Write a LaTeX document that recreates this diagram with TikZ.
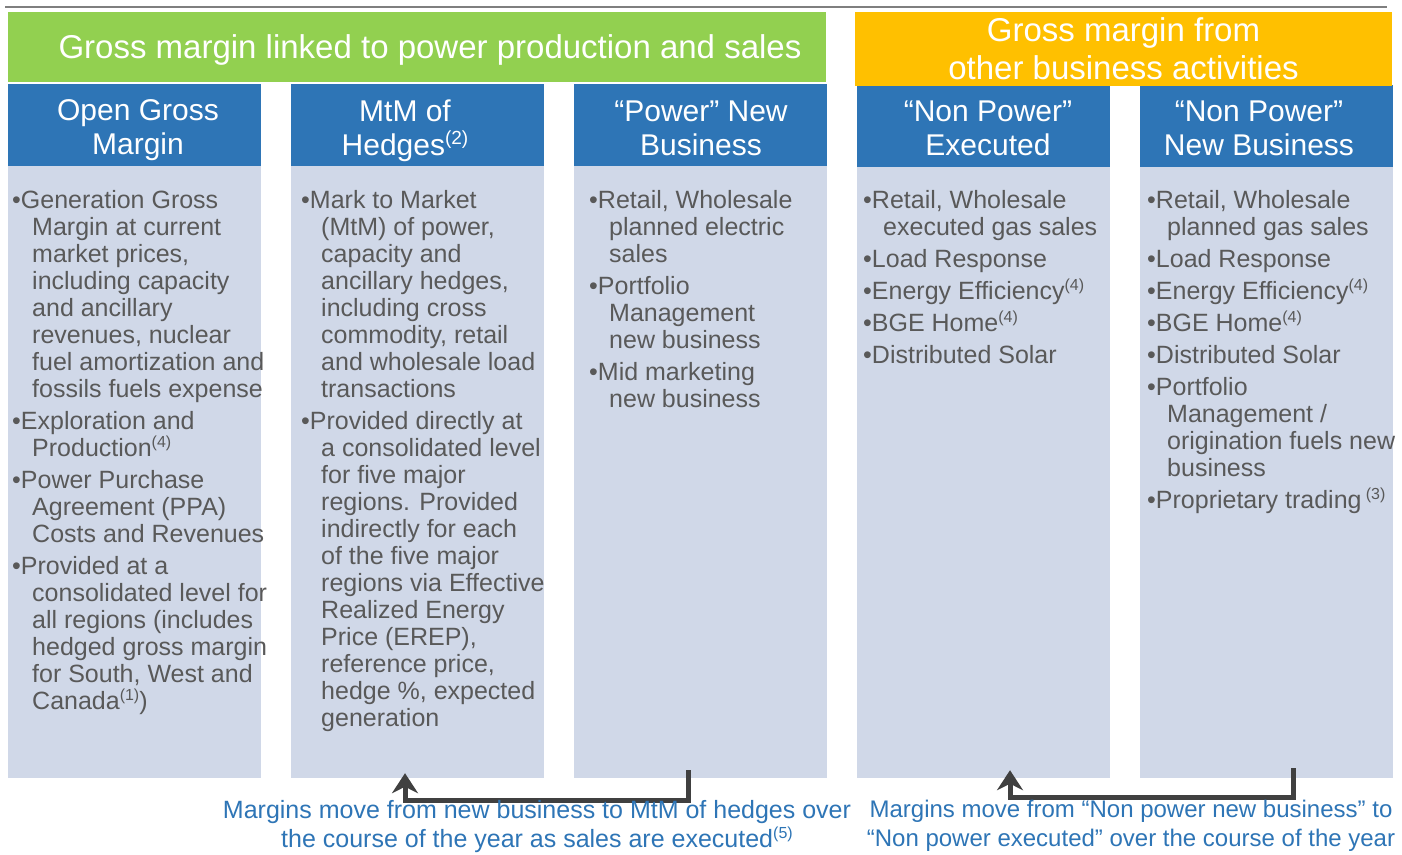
\documentclass[tikz,border=0pt]{standalone}
\usepackage{fontspec}
\setmainfont{Liberation Sans}
\usetikzlibrary{arrows.meta}
\definecolor{gmgreen}{HTML}{92D050}
\definecolor{gmorange}{HTML}{FFC000}
\definecolor{hdrblue}{HTML}{2E75B6}
\definecolor{bodybg}{HTML}{D0D8E8}
\definecolor{txtgray}{HTML}{595959}
\definecolor{noteblue}{HTML}{2E75B6}
\definecolor{arrgray}{HTML}{404040}
\definecolor{rulegray}{HTML}{7F7F7F}
\newcommand\supx[2][16]{\raisebox{0.36em}{\fontsize{#1}{#1}\selectfont(#2)}}
\newcommand\ind{\hspace*{20pt}}
\begin{document}
\begin{tikzpicture}[x=1pt,y=-1pt,
 banner/.style={inner sep=0pt, text=white, align=center},
 headerbox/.style={fill=hdrblue, inner sep=0pt, minimum width=253pt, minimum height=82pt},
 headertext/.style={inner sep=0pt, text=white, font=\fontsize{30}{34}\selectfont, align=center},
 bodybox/.style={fill=bodybg, inner sep=0pt, minimum width=253pt, minimum height=612pt},
 bodytext/.style={anchor=north west, inner sep=0pt, align=left, text=txtgray, font=\fontsize{25}{27}\selectfont},
 note/.style={inner sep=0pt, align=center, text=noteblue, font=\fontsize{25}{29}\selectfont},
 conn/.style={draw=arrgray, line width=5pt, -{Stealth[length=20pt,width=26pt]}}
]
\useasboundingbox (0,0) rectangle (1402,854);
\fill[white] (0,0) rectangle (1402,854);
\draw[rulegray, line width=2pt] (5,7) -- (1387,7);

% body boxes
\node[bodybox] (b1) at (134.5,472) {};
\node[bodybox] (b2) at (417.5,472) {};
\node[bodybox] (b3) at (700.5,472) {};
\node[bodybox] (b4) at (983.5,472) {};
\node[bodybox] (b5) at (1266,472) {};

% headers
\node[headerbox] (h1) at (134.5,125) {};
\node[headerbox] (h2) at (417.5,125) {};
\node[headerbox] (h3) at (700.5,125) {};
\node[headerbox] (h4) at (983.5,126) {};
\node[headerbox] (h5) at (1266,126) {};
\node[headertext] (h1t) at (138,130) {Open Gross\\Margin};
\node[headertext] (h2t) at (405,131) {MtM of\\Hedges\supx[19]{2}};
\node[headertext] (h3t) at (701,128) {“Power” New\\Business};
\node[headertext] (h4t) at (988,128) {“Non Power”\\Executed};
\node[headertext] (h5t) at (1259,128) {“Non Power”\\New Business};

% banners
\node[banner, fill=gmgreen, minimum width=818pt, minimum height=70pt] (g) at (417,47) {};
\node[banner, font=\fontsize{33}{38}\selectfont] (gt) at (430,50) {Gross margin linked to power production and sales};
\node[banner, fill=gmorange, minimum width=537pt, minimum height=74pt, font=\fontsize{33}{38}\selectfont] (o) at (1123.5,49) {Gross margin from\\other business activities};

% body texts
\node[bodytext] (t1) at (12,189) {\strut•Generation Gross\\
\ind Margin at current\\
\ind market prices,\\
\ind including capacity\\
\ind and ancillary\\
\ind revenues, nuclear\\
\ind fuel amortization and\\
\ind fossils fuels expense\\[5pt]
•Exploration and\\
\ind Production\supx{4}\\[5pt]
•Power Purchase\\
\ind Agreement (PPA)\\
\ind Costs and Revenues\\[5pt]
•Provided at a\\
\ind consolidated level for\\
\ind all regions (includes\\
\ind hedged gross margin\\
\ind for South, West and\\
\ind Canada\supx{1})};

\node[bodytext] (t2) at (301,189) {\strut•Mark to Market\\
\ind (MtM) of power,\\
\ind capacity and\\
\ind ancillary hedges,\\
\ind including cross\\
\ind commodity, retail\\
\ind and wholesale load\\
\ind transactions\\[5pt]
•Provided directly at\\
\ind a consolidated level\\
\ind for five major\\
\ind regions. Provided\\
\ind indirectly for each\\
\ind of the five major\\
\ind regions via Effective\\
\ind Realized Energy\\
\ind Price (EREP),\\
\ind reference price,\\
\ind hedge \%, expected\\
\ind generation};

\node[bodytext] (t3) at (589,189) {\strut•Retail, Wholesale\\
\ind planned electric\\
\ind sales\\[5pt]
•Portfolio\\
\ind Management\\
\ind new business\\[5pt]
•Mid marketing\\
\ind new business};

\node[bodytext] (t4) at (863,189) {\strut•Retail, Wholesale\\
\ind executed gas sales\\[5pt]
•Load Response\\[5pt]
•Energy Efficiency\supx{4}\\[5pt]
•BGE Home\supx{4}\\[5pt]
•Distributed Solar};

\node[bodytext] (t5) at (1147,189) {\strut•Retail, Wholesale\\
\ind planned gas sales\\[5pt]
•Load Response\\[5pt]
•Energy Efficiency\supx{4}\\[5pt]
•BGE Home\supx{4}\\[5pt]
•Distributed Solar\\[5pt]
•Portfolio\\
\ind Management /\\
\ind origination fuels new\\
\ind business\\[5pt]
•Proprietary trading\,\supx{3}};

% connectors
\draw[conn] ([shift={(-12.5pt,8pt)}]b3.south) -- ([shift={(-12.5pt,-22pt)}]b3.south) -| ([shift={(-12.5pt,5pt)}]b2.south);
\draw[conn] ([shift={(27pt,10pt)}]b5.south) -- ([shift={(27pt,-19pt)}]b5.south) -| ([shift={(26.5pt,8pt)}]b4.south);

% notes
\node[note] (n1) at (537,827) {Margins move from new business to MtM of hedges over\\the course of the year as sales are executed\supx{5}};
\node[note, font=\fontsize{24}{29}\selectfont] (n2) at (1131,826) {Margins move from “Non power new business” to\\“Non power executed” over the course of the year};
\end{tikzpicture}
\end{document}
